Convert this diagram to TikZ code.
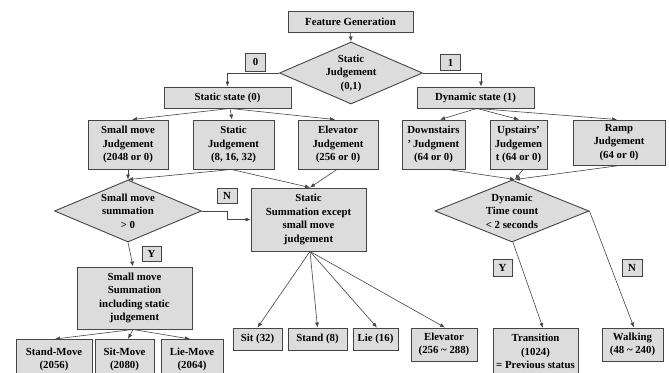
\documentclass[tikz,border=0pt]{standalone}
\usepackage{fontspec}
\setmainfont{Liberation Serif}
\usetikzlibrary{arrows.meta,shapes.geometric,calc}
\definecolor{boxfill}{HTML}{DCDCDC}
\definecolor{edge}{HTML}{454545}
\tikzset{
  base/.style={draw=edge,fill=boxfill,line width=0.9pt,inner sep=0pt,align=center,
    font=\fontsize{10.8}{13.5}\selectfont\bfseries},
  bx/.style n args={2}{base,rectangle,minimum width=#1,minimum height=#2},
  dm/.style n args={2}{base,diamond,aspect=2.3,minimum width=#1,minimum height=#2},
  lbl/.style={base,rectangle,minimum width=20,minimum height=16},
  con/.style={draw=edge,line width=0.6pt,-{Latex[length=5pt,width=4pt]}},
  ln/.style={draw=edge,line width=0.6pt}
}
\begin{document}
\begin{tikzpicture}[x=1pt,y=-1pt]
\clip (0,0) rectangle (669,372);
\fill[white] (0,0) rectangle (669,372);
% top
\node[bx={125}{21}] (fg) at (350.5,21.5) {Feature Generation};
\node[dm={143}{62}] (sj) at (351,73) {Static\\Judgement\\(0,1)};
\node[lbl,minimum height=18] (l0) at (255.5,62) {0};
\node[lbl] (l1) at (450.5,62.5) {1};
\node[bx={127}{21}] (ss) at (227.5,97.5) {Static state (0)};
\node[bx={117}{21}] (ds) at (475.5,97.5) {Dynamic state (1)};
% judgement row
\node[bx={80}{49}] (smj) at (128,144.5) {Small move\\Judgement\\(2048 or 0)};
\node[bx={81}{49}] (stj) at (233.5,144.5) {Static\\Judgement\\(8, 16, 32)};
\node[bx={80}{49}] (elj) at (338,144.5) {Elevator\\Judgement\\(256 or 0)};
\node[bx={63}{49}] (dsj) at (433.5,144.5) {Downstairs\\'\,Judgment\\(64 or 0)};
\node[bx={57}{49}] (usj) at (518.5,144.5) {Upstairs'\\Judgemen\\t (64 or 0)};
\node[bx={92}{45}] (rpj) at (619,142.5) {Ramp\\Judgement\\(64 or 0)};
% middle
\node[dm={147}{62}] (smd) at (128,211) {Small move\\summation\\> 0};
\node[bx={115}{63}] (sms) at (308.5,219.5) {Static\\Summation except\\small move\\judgement};
\node[lbl,minimum width=20,minimum height=15] (nl) at (227,195.5) {N};
\node[lbl,minimum width=19,minimum height=15] (yl) at (151.5,253.5) {Y};
\node[dm={154}{62}] (dd) at (512,211) {Dynamic\\Time count\\< 2 seconds};
\node[lbl,minimum width=19,minimum height=17] (yr) at (502.5,267.5) {Y};
\node[lbl,minimum width=20,minimum height=17] (nr) at (632,267.5) {N};
\node[bx={115}{62}] (sum) at (134.5,298) {Small move\\Summation\\including static\\judgement};
% bottom
\node[bx={76}{40},anchor=north] (stm) at (54,339) {Stand-Move\\(2056)};
\node[bx={59}{40},anchor=north] (sim) at (124.5,339) {Sit-Move\\(2080)};
\node[bx={62}{40},anchor=north] (lim) at (192,339) {Lie-Move\\(2064)};
\node[bx={49}{22}] (sit) at (257.5,339) {Sit (32)};
\node[bx={59}{22}] (std) at (317.5,339) {Stand (8)};
\node[bx={45}{22}] (lie) at (375.5,339) {Lie (16)};
\node[bx={66}{33}] (elv) at (444,344.5) {Elevator\\(256 \textasciitilde{} 288)};
\node[bx={85}{46},anchor=north] (tr) at (535.5,328) {Transition\\(1024)\\= Previous status};
\node[bx={61}{33}] (wk) at (632.5,344.5) {Walking\\(48 \textasciitilde{} 240)};
% connectors
\draw[con] (fg.south) -- (sj.north);
\draw[con] (sj.west) -| (ss.north);
\draw[con] (sj.east) -| ([xshift=5.5pt]ds.north);
\coordinate (ssb) at ([xshift=2.5pt]ss.south);
\draw[con] (ssb) -- ([xshift=4pt]smj.north);
\draw[con] (ssb) -- ([xshift=-1.5pt]stj.north);
\draw[con] (ssb) -- ([xshift=-3pt]elj.north);
\coordinate (dsb) at ([xshift=1.5pt]ds.south);
\draw[con] (dsb) -- ([xshift=6.5pt]dsj.north);
\draw[con] (dsb) -- ([xshift=0.5pt]usj.north);
\draw[con] (dsb) -- ([xshift=-2pt]rpj.north);
\draw[con] (smj.south) -- (smd.north);
\draw[con] ([xshift=-2pt]stj.south) -- (smd.north);
\draw[con] ([xshift=-2pt]stj.south) -- ([xshift=1.5pt]sms.north);
\draw[con] ([xshift=-1pt]elj.south) -- ([xshift=1.5pt]sms.north);
\draw[con] ([xshift=14pt]dsj.south) -- ([xshift=3pt]dd.north);
\draw[con] ([xshift=4.5pt]usj.south) -- ([xshift=3pt]dd.north);
\draw[con] ([xshift=1pt]rpj.south) -- ([xshift=3pt]dd.north);
\draw[con] (smd.east) -- ++(25,0) |- (sms.west);
\draw[con] (smd.south) -- ([xshift=-1.5pt]sum.north);
\coordinate (sumb) at ([xshift=-1.5pt]sum.south);
\draw[con] (sumb) -- ([xshift=1pt]stm.north);
\draw[con] (sumb) -- ([xshift=3.5pt]sim.north);
\draw[con] (sumb) -- ([xshift=-2pt]lim.north);
\coordinate (smsb) at ([xshift=1.5pt]sms.south);
\draw[con] (smsb) -- (sit.north);
\draw[con] (smsb) -- (std.north);
\draw[con] (smsb) -- ([xshift=1.5pt]lie.north);
\draw[con] (smsb) -- ([xshift=1pt]elv.north);
\draw[con] ([xshift=1pt]dd.south) -- ([xshift=7.5pt]tr.north);
\draw[con] (dd.east) -- ([xshift=1.5pt]wk.north);
\end{tikzpicture}
\end{document}
